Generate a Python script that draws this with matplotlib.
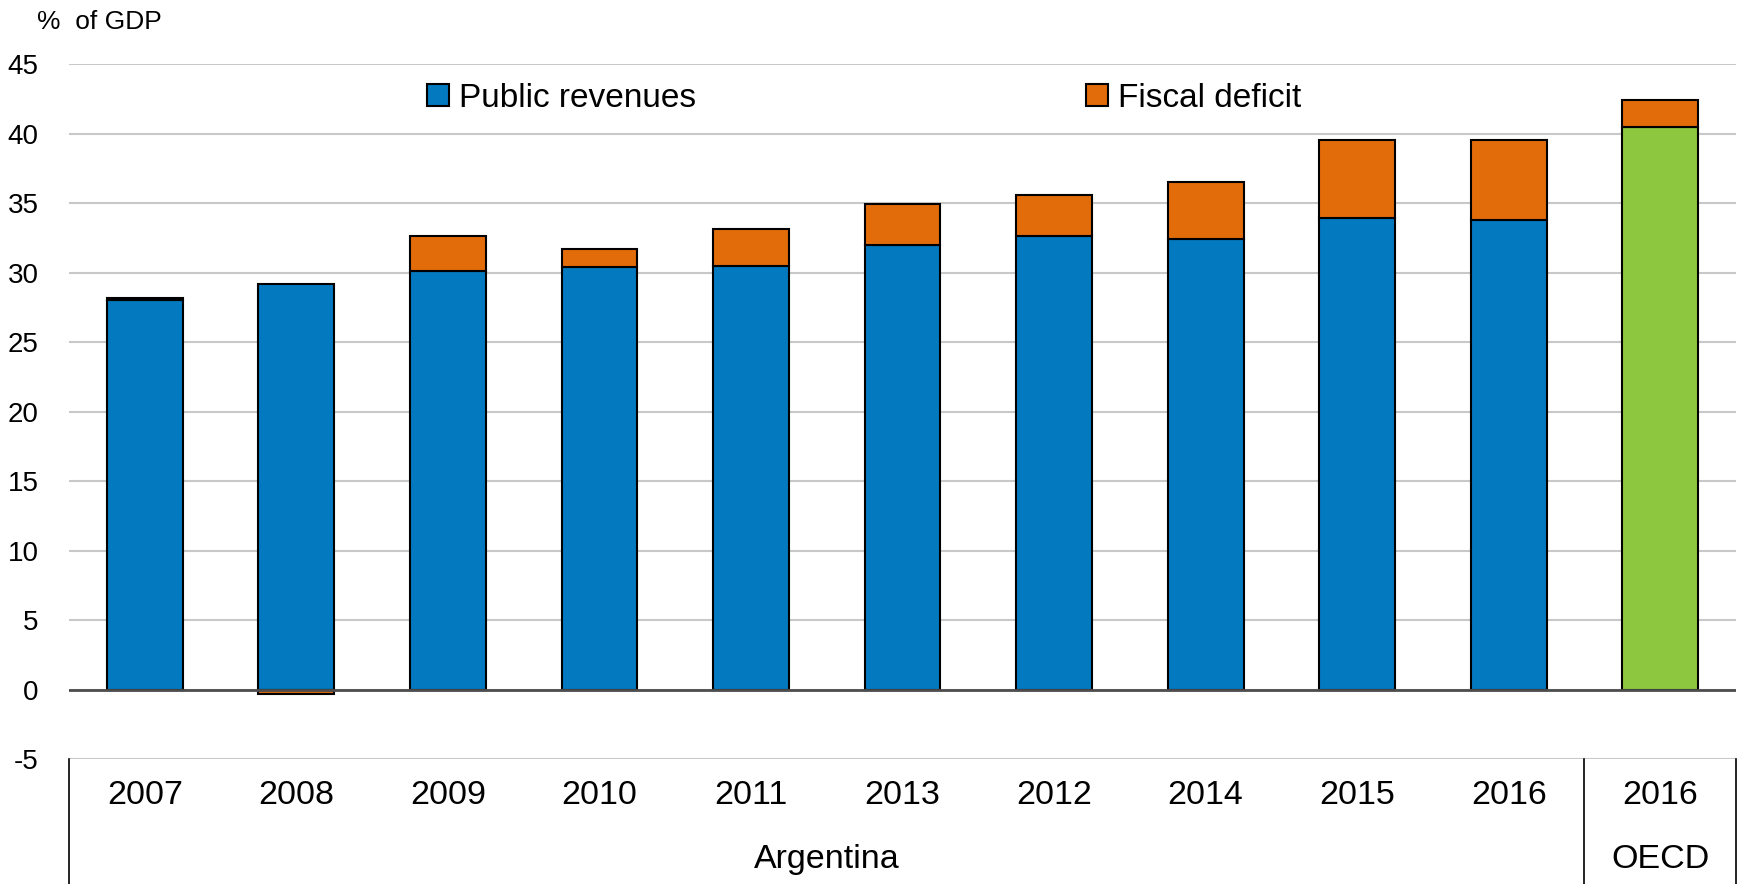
import numpy as np
import matplotlib
matplotlib.use('Agg')
import matplotlib.pyplot as plt
from matplotlib.patches import Patch

plt.rcParams['font.family'] = ['Liberation Sans Narrow', 'Liberation Sans', 'DejaVu Sans']
plt.rcParams['axes.unicode_minus'] = False

# data (% of GDP)
years = ['2007', '2008', '2009', '2010', '2011', '2013', '2012', '2014', '2015', '2016', '2016']
groups = ['Argentina'] * 10 + ['OECD']
revenues = [28.0, 29.2, 30.1, 30.4, 30.5, 32.0, 32.6, 32.4, 33.9, 33.8, 40.5]
deficit = [0.2, -0.3, 2.5, 1.3, 2.6, 2.9, 3.0, 4.1, 5.6, 5.7, 1.9]

blue = '#0379BF'
orange = '#E36C0A'
green = '#8DC63F'

x = np.arange(len(years))
rev = np.array(revenues)
dfc = np.array(deficit)
rev_colors = [green if g == 'OECD' else blue for g in groups]

fig = plt.figure(figsize=(17.43, 8.84), dpi=100)
ax = fig.add_axes([0.0396, 0.1414, 0.9564, 0.7862])

ax.bar(x, rev, width=0.5, color=rev_colors, edgecolor='black', linewidth=1.5, zorder=3)
ax.bar(x, dfc, width=0.5, bottom=np.where(dfc > 0, rev, 0), color=orange,
       edgecolor='black', linewidth=1.5, zorder=3)

ax.set_xlim(-0.5, len(years) - 0.5)
ax.set_ylim(-5, 45)
ax.set_yticks(np.arange(-5, 46, 5))
ax.yaxis.grid(True, color='#c8c8c8', linewidth=1.5, zorder=0)
ax.axhline(0, color='#4d4d4d', linewidth=2, zorder=4)
for s in ax.spines.values():
    s.set_visible(False)
ax.tick_params(axis='y', length=0, pad=22, labelsize=20)
ax.set_xticks([])

# category labels below the plot
trans = ax.get_xaxis_transform()
for xi, yr in zip(x, years):
    ax.text(xi, -0.053, yr, transform=trans, ha='center', va='center', fontsize=24.5)
arg_idx = [i for i, g in enumerate(groups) if g == 'Argentina']
oecd_idx = [i for i, g in enumerate(groups) if g == 'OECD']
ax.text(np.mean(arg_idx), -0.145, 'Argentina', transform=trans, ha='center', va='center', fontsize=24.5)
ax.text(np.mean(oecd_idx), -0.145, 'OECD', transform=trans, ha='center', va='center', fontsize=24.5)
for xv in [-0.5, oecd_idx[0] - 0.5, len(years) - 0.5]:
    ax.plot([xv, xv], [0, -0.2], transform=trans, color='black', linewidth=1.2, clip_on=False)

fig.text(0.021, 0.975, '%  of GDP', fontsize=19, ha='left', va='center')

leg1 = fig.legend(handles=[Patch(facecolor=blue, edgecolor='black', linewidth=1.5)],
                  labels=['Public revenues'], loc='center left', bbox_to_anchor=(0.245, 0.889),
                  frameon=False, fontsize=24, handlelength=0.65, handleheight=0.65,
                  handletextpad=0.3, borderpad=0, borderaxespad=0)
leg2 = fig.legend(handles=[Patch(facecolor=orange, edgecolor='black', linewidth=1.5)],
                  labels=['Fiscal deficit'], loc='center left', bbox_to_anchor=(0.623, 0.889),
                  frameon=False, fontsize=24, handlelength=0.65, handleheight=0.65,
                  handletextpad=0.3, borderpad=0, borderaxespad=0)

fig.savefig('out.png', dpi=100)
